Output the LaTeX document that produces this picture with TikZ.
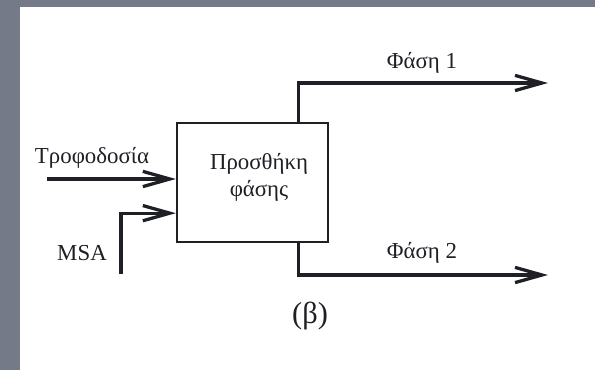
\documentclass[tikz,border=0pt]{standalone}
\usepackage{fontspec}
\setmainfont{Liberation Serif}
\usetikzlibrary{positioning, calc, arrows.meta}
\definecolor{Frame}{HTML}{747A88}
\definecolor{Ink}{HTML}{1E2026}
\tikzset{
    procbox/.style={rectangle, draw=Ink, line width=2pt, minimum width=4.53cm, minimum height=3.57cm, inner sep=0pt},
    flow/.style={-{Straight Barb[length=23pt, width=13pt]}, line width=2.8pt, draw=Ink},
    tag/.style={text=Ink, font=\fontsize{19.5}{23}\selectfont, align=center},
}

\begin{document}
\begin{tikzpicture}[x=0.3cm, y=0.3cm]
    % Πλαίσιο σελίδας
    \fill[Frame] (0,0) rectangle (59.5,37);
    \fill[white] (2.0,0) rectangle (59.5,36.3);
    \useasboundingbox (0,0) rectangle (59.5,37);

    % Μονάδα
    \node[procbox] (add) at (25.25,18.75) {};
    \node[tag] (addtxt) at (25.9,19.25) {Προσθήκη\\φάσης};

    % Είσοδοι
    \coordinate (feedin) at (4.7,19.1);
    \coordinate (msain) at (12.1,9.6);
    \draw[flow] (feedin) -- (feedin -| add.west);
    \draw[flow] (msain) |- ($(add.south west)+(0,3.0)$);
    \node[tag] (feedlbl) at (9.2,21.2) {Τροφοδοσία};
    \node[tag] (msalbl) at (8.2,11.7) {MSA};

    % Έξοδοι
    \coordinate (ph1out) at (54.8,28.7);
    \coordinate (ph2out) at (54.8,9.5);
    \draw[flow] ($(add.north east)+(-3.1,0)$) |- (ph1out);
    \draw[flow] ($(add.south east)+(-3.1,0)$) |- (ph2out);
    \node[tag] (ph1lbl) at (42.2,30.7) {Φάση 1};
    \node[tag] (ph2lbl) at (42.2,11.7) {Φάση 2};

    % Λεζάντα
    \node[tag, font=\fontsize{26}{30}\selectfont] (caption) at (31.0,5.4) {(β)};
\end{tikzpicture}
\end{document}
